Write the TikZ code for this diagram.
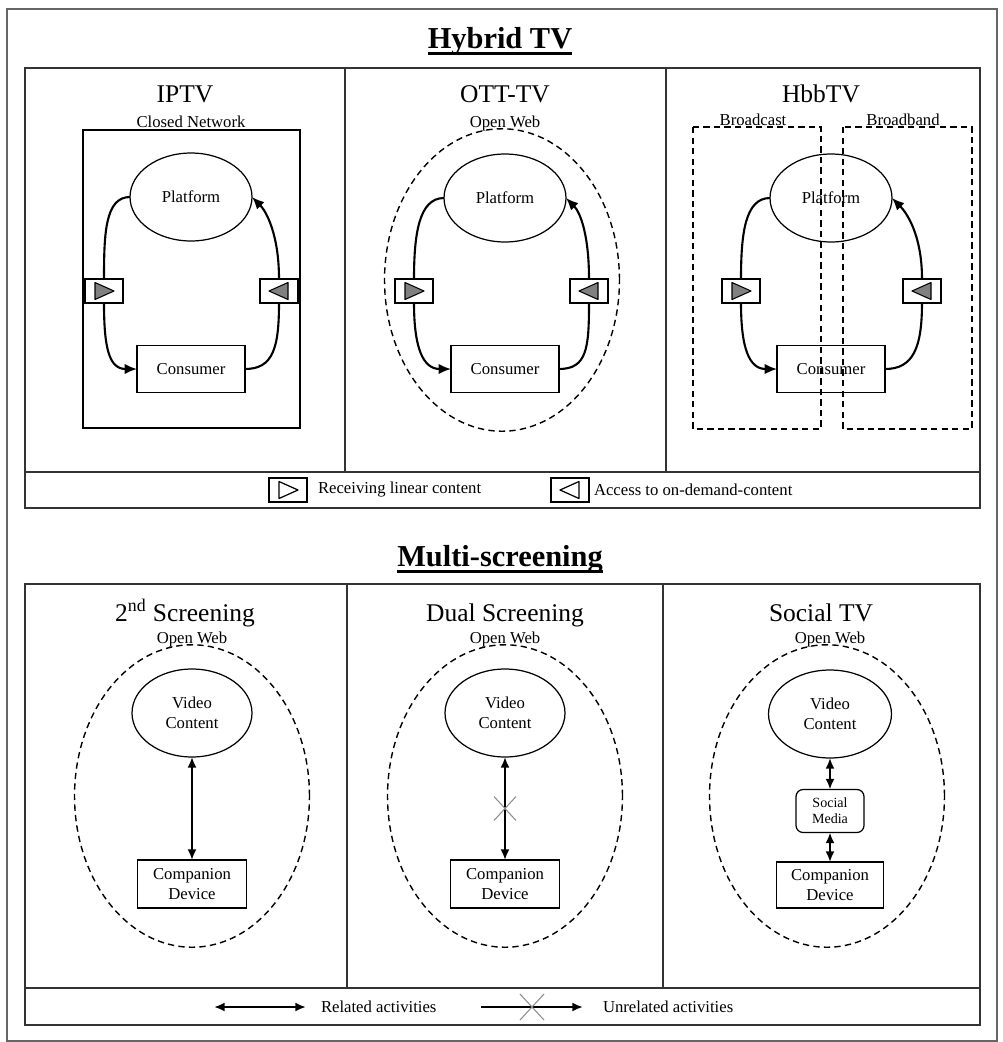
\documentclass[tikz,border=0pt]{standalone}
\usepackage{fontspec}
\setmainfont{Liberation Serif}
\usetikzlibrary{arrows.meta,shapes.geometric}

\begin{document}
\begin{tikzpicture}[x=0.02cm,y=-0.02cm,inner sep=0pt,outer sep=0pt,
font=\fontsize{9.5}{11.3}\selectfont,
panel/.style={draw=black!80,line width=0.6pt},
heading/.style={font=\fontsize{17.3}{20}\selectfont\bfseries,anchor=base},
coltitle/.style={font=\fontsize{14.5}{17}\selectfont,anchor=base},
sublabel/.style={anchor=base},
platform/.style={draw,ellipse,line width=0.7pt,minimum width=2.44cm,minimum height=1.76cm,align=center},
unit/.style={draw,rectangle,line width=0.7pt,minimum width=2.16cm,minimum height=0.94cm,align=center},
marker/.style={draw,rectangle,line width=0.7pt,minimum width=0.76cm,minimum height=0.48cm},
tri/.style={draw,fill=black!50,line width=0.6pt,line join=round},
opentri/.style={draw,fill=white,line width=0.7pt,line join=round},
netdash/.style={line width=0.8pt,dash pattern=on 3.6pt off 2.4pt},
web/.style={draw,ellipse,netdash,minimum width=4.7cm,minimum height=6.05cm},
flow/.style={line width=1.2pt},
link/.style={line width=1.1pt,{Latex[length=6pt,width=5pt]}-{Latex[length=6pt,width=5pt]}},
cross/.style={draw=black!45,line width=0.6pt}]
\useasboundingbox (0,0) rectangle (1002,1042);
\draw[draw=black!60,line width=0.6pt] (7,9) rectangle (997,1041);

% Hybrid TV
\draw (500,48) node[heading] (hybt) {Hybrid TV};
\draw[line width=1.5pt] ([yshift=-3pt]hybt.base west) -- ([yshift=-3pt]hybt.base east);
\draw[panel] (25,68) rectangle (980,508);
\draw[panel] (25,472) -- (980,472);
\draw[panel] (345,68) -- (345,472) (666,68) -- (666,472);

% IPTV
\draw (185,102) node[coltitle] (iptvt) {IPTV};
\draw (191,127) node[sublabel] (closedt) {Closed Network};
\draw[line width=0.7pt] (83,130) rectangle (300,428);
\draw (191,197) node[platform] (ipplat) {Platform};
\draw (191,369) node[unit] (ipcons) {Consumer};
\draw (104,291) node[marker] (iprx) {};
\draw (279,291) node[marker] (iptx) {};
\draw[flow] (ipplat.west) .. controls +(-25,0) and +(0,-45) .. (iprx.north);
\draw[flow,-{Latex[length=7pt,width=6pt]}] (iprx.south) .. controls +(0,45) and +(-28,0) .. (ipcons.west);
\draw[flow] (ipcons.east) .. controls +(28,0) and +(0,45) .. (iptx.south);
\draw[flow,-{Latex[length=7pt,width=6pt]}] (iptx.north) .. controls +(0,-45) and +(14,14) .. (ipplat.east);

% OTT-TV
\draw (505,102) node[coltitle] (ottt) {OTT-TV};
\draw (505,127) node[sublabel] (ottweb) {Open Web};
\draw (502,280) node[web] (ottnet) {};
\draw (505,198) node[platform] (ottplat) {Platform};
\draw (505,369) node[unit] (ottcons) {Consumer};
\draw (414,291) node[marker] (ottrx) {};
\draw (589,291) node[marker] (otttx) {};
\draw[flow] (ottplat.west) .. controls +(-25,0) and +(0,-45) .. (ottrx.north);
\draw[flow,-{Latex[length=7pt,width=6pt]}] (ottrx.south) .. controls +(0,45) and +(-28,0) .. (ottcons.west);
\draw[flow] (ottcons.east) .. controls +(28,0) and +(0,45) .. (otttx.south);
\draw[flow,-{Latex[length=7pt,width=6pt]}] (otttx.north) .. controls +(0,-45) and +(14,14) .. (ottplat.east);

% HbbTV
\draw (821,102) node[coltitle] (hbbt) {HbbTV};
\draw (831,198) node[platform] (hbbplat) {Platform};
\draw (831,369) node[unit] (hbbcons) {Consumer};
\draw (741,291) node[marker] (hbbrx) {};
\draw (922,291) node[marker] (hbbtx) {};
\draw[flow] (hbbplat.west) .. controls +(-25,0) and +(0,-45) .. (hbbrx.north);
\draw[flow,-{Latex[length=7pt,width=6pt]}] (hbbrx.south) .. controls +(0,45) and +(-28,0) .. (hbbcons.west);
\draw[flow] (hbbcons.east) .. controls +(28,0) and +(0,45) .. (hbbtx.south);
\draw[flow,-{Latex[length=7pt,width=6pt]}] (hbbtx.north) .. controls +(0,-45) and +(14,14) .. (hbbplat.east);
\draw (753,125) node[sublabel] (bcastt) {Broadcast};
\draw (903,125) node[sublabel] (bbandt) {Broadband};
\draw[netdash] (693,127) rectangle (821,429);
\draw[netdash] (843,127) rectangle (972,429);

% triangles in the markers
\foreach \m in {iprx,ottrx,hbbrx}
  \draw[tri] (\m) ++(-9,-8.5) -- ++(0,17) -- ++(19,-8.5) -- cycle;
\foreach \m in {iptx,otttx,hbbtx}
  \draw[tri] (\m) ++(9,-8.5) -- ++(0,17) -- ++(-19,-8.5) -- cycle;

% legend of the top panel
\draw (288,490) node[marker] (lgrx) {};
\draw[opentri] (lgrx) ++(-9,-8.5) -- ++(0,17) -- ++(19,-8.5) -- cycle;
\draw (318,490) node[anchor=west] (lgrxt) {Receiving linear content};
\draw (570,490) node[marker] (lgtx) {};
\draw[opentri] (lgtx) ++(9,-8.5) -- ++(0,17) -- ++(-19,-8.5) -- cycle;
\draw (594,490) node[anchor=west] (lgtxt) {Access to on-demand-content};

% Multi-screening
\draw (500,566) node[heading] (multit) {Multi-screening};
\draw[line width=1.5pt] ([yshift=-3pt]multit.base west) -- ([yshift=-3pt]multit.base east);
\draw[panel] (25,584) rectangle (980,1025);
\draw[panel] (25,988) -- (980,988);
\draw[panel] (347,584) -- (347,988) (663,584) -- (663,988);

% 2nd screening
\draw (185,621) node[coltitle] (scrt) {2\textsuperscript{nd} Screening};
\draw (192,643) node[sublabel] (scrweb) {Open Web};
\draw (192,796) node[web] (scrnet) {};
\draw (192,713) node[platform,minimum width=2.4cm] (scrvc) {Video\\Content};
\draw (192,884) node[unit,minimum width=2.18cm,minimum height=0.96cm] (scrcd) {Companion\\Device};
\draw[link] (scrvc.south) -- (scrcd.north);

% Dual screening
\draw (505,621) node[coltitle] (dualt) {Dual Screening};
\draw (505,643) node[sublabel] (dualweb) {Open Web};
\draw (505,796) node[web] (dualnet) {};
\draw (505,713) node[platform,minimum width=2.4cm] (dualvc) {Video\\Content};
\draw (505,884) node[unit,minimum width=2.18cm,minimum height=0.96cm] (dualcd) {Companion\\Device};
\draw[link] (dualvc.south) -- node (dualx) {} (dualcd.north);
\draw[cross] (dualx) ++(-11,-12) -- ++(22,24) (dualx) ++(11,-12) -- ++(-22,24);

% Social TV
\draw (821,621) node[coltitle] (soct) {Social TV};
\draw (830,643) node[sublabel] (socweb) {Open Web};
\draw (827,796) node[web] (socnet) {};
\draw (830,714) node[platform,minimum width=2.46cm] (socvc) {Video\\Content};
\draw (830,811) node[draw,rectangle,rounded corners=4pt,line width=0.7pt,minimum width=1.36cm,minimum height=0.86cm,align=center,font=\fontsize{8}{9}\selectfont] (socsm) {Social\\Media};
\draw (830,885) node[unit,minimum width=2.14cm,minimum height=0.92cm] (soccd) {Companion\\Device};
\draw[link] (socvc.south) -- (socsm.north);
\draw[link] (socsm.south) -- (soccd.north);

% legend of the bottom panel
\coordinate (rela) at (214,1007);
\coordinate (relb) at (306,1007);
\draw[link] (rela) -- (relb);
\draw (321,1007) node[anchor=west] (relt) {Related activities};
\coordinate (unra) at (481,1007);
\coordinate (unrb) at (583,1007);
\draw[line width=1.1pt,-{Latex[length=6pt,width=5pt]}] (unra) -- node (unrx) {} (unrb);
\draw[cross] (unrx) ++(-12,-13) -- ++(24,26) (unrx) ++(12,-13) -- ++(-24,26);
\draw (603,1007) node[anchor=west] (unrt) {Unrelated activities};
\end{tikzpicture}
\end{document}
